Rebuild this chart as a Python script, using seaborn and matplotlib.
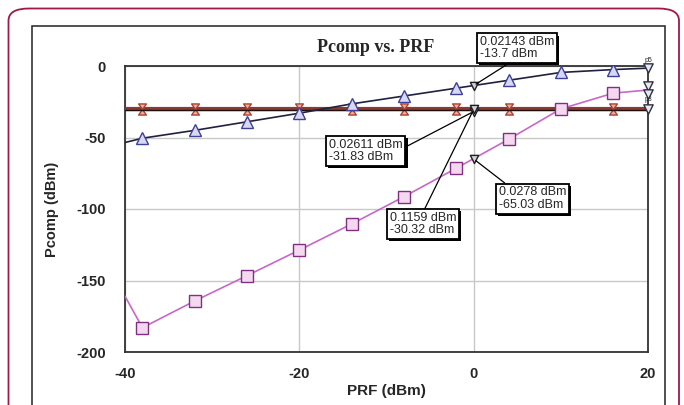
import numpy as np
import matplotlib
matplotlib.use("Agg")
import matplotlib.pyplot as plt
import matplotlib.patheffects as pe
import seaborn as sns
import pandas as pd
from matplotlib.patches import FancyBboxPatch, Rectangle
from matplotlib.path import Path

# ---------------- data ----------------
prf = [-40, -38, -32, -26, -20, -14, -8, -2, 4, 10, 16, 20]
pcomp_tri = [-53.5, -50.5, -45, -39, -33, -26.5, -21, -15.5, -10, -4.5, -2.5, -1.5]
pcomp_sq = [-161, -183, -164.3, -146.6, -128.7, -110.5, -91.4, -71.5, -51.3, -30, -19, -16.8]
pcomp_flat = [-30.3] * 12
pcomp_flat2 = [-31.0] * 12

marker_x = [0, 0, 0, 0]
marker_y = [-13.7, -31.83, -30.32, -65.03]
marker_txt = ["0.02143 dBm\n-13.7 dBm", "0.02611 dBm\n-31.83 dBm",
              "0.1159 dBm\n-30.32 dBm", "0.0278 dBm\n-65.03 dBm"]
end_labels = ["p5", "p8"]

xticks = [-40, -20, 0, 20]
yticks = [0, -50, -100, -150, -200]

# ---------------- style ----------------
sns.set_style("white")
plt.rcParams['font.family'] = ['Liberation Sans', 'DejaVu Sans']

fig = plt.figure(figsize=(6.84, 4.05), dpi=100)
ax = fig.add_axes([125/684, 1-352/405, (648-125)/684, (352-66)/405])

# decorations
fig.patches.append(FancyBboxPatch((8.5/684, -0.2), (679-8.5)/684, (1.2 - 8.5/405),
                                  boxstyle="round,pad=0,rounding_size=0.03",
                                  transform=fig.transFigure, fill=False,
                                  edgecolor="#a01848", lw=1.3, figure=fig))
fig.patches.append(Rectangle((32/684, -0.1), (665-32)/684, 1.1 - 26/405,
                             transform=fig.transFigure, fill=False,
                             edgecolor="#222222", lw=1.1, figure=fig))

df = pd.DataFrame({"PRF": prf, "tri": pcomp_tri, "sq": pcomp_sq,
                   "flat": pcomp_flat, "flat2": pcomp_flat2})

hourglass = Path([(-0.7, 1), (0.7, 1), (-0.7, -1), (0.7, -1), (-0.7, 1)],
                 [Path.MOVETO, Path.LINETO, Path.LINETO, Path.LINETO, Path.CLOSEPOLY])

mk = list(range(1, 11))
# flat brown line
sns.lineplot(data=df, x="PRF", y="flat", ax=ax, color="#8a3a30", lw=3.0,
             marker=hourglass, markevery=mk, markersize=8,
             markerfacecolor="#e8b0a0", markeredgecolor="#b04030", mew=1.0, zorder=3)
sns.lineplot(data=df, x="PRF", y="flat2", ax=ax, color="#201010", lw=1.0, zorder=3)
# magenta squares
sns.lineplot(data=df, x="PRF", y="sq", ax=ax, color="#c868c8", lw=1.2,
             marker="s", markevery=mk, markersize=8,
             markerfacecolor="#f4d8f0", markeredgecolor="#803080", mew=1.0, zorder=4)
# triangle series
sns.lineplot(data=df, x="PRF", y="tri", ax=ax, color="#202040", lw=1.2,
             marker="^", markevery=mk, markersize=8,
             markerfacecolor="#d8d8f4", markeredgecolor="#404098", mew=1.0, zorder=5)

# end markers at right edge
sns.scatterplot(x=[20, 20, 20, 20], y=[pcomp_tri[-1], pcomp_sq[-1] + 3, pcomp_sq[-1] - 3, pcomp_flat[-1]],
                ax=ax, marker="v", s=45, color="#e8e8f0", edgecolor="#303040",
                linewidth=1.0, zorder=6, clip_on=False)
ax.text(20, 1.5, end_labels[0], fontsize=5, ha="center", va="bottom")
ax.text(20, -26, end_labels[1], fontsize=5, ha="center", va="bottom")

# marker points at x=0
sns.scatterplot(x=marker_x, y=marker_y, ax=ax, marker="v", s=35,
                color="#d0d0d8", edgecolor="#202020", linewidth=1.0, zorder=7)

box = dict(boxstyle="square,pad=0.22", fc="white", ec="black", lw=1.3)
arrow = dict(arrowstyle="-", color="black", lw=0.9, shrinkA=0, shrinkB=2)
ann = [((0.7, 12.4), (0.45, 0.0), 0),
       ((-16.6, -59.4), (1.0, 0.6), 1),
       ((-9.6, -110.5), (0.5, 1.0), 2),
       ((2.9, -92.7), (0.15, 1.0), 3)]
for (xt, yt), rp, i in ann:
    a = dict(arrow)
    a["relpos"] = rp
    t = ax.annotate(marker_txt[i], xy=(marker_x[i], marker_y[i]), xytext=(xt, yt),
                    fontsize=9, va="center", ha="left", bbox=box, arrowprops=a,
                    annotation_clip=False, zorder=8, linespacing=1.05)
    t.get_bbox_patch().set_path_effects(
        [pe.SimplePatchShadow(offset=(1.6, -1.6), shadow_rgbFace="black", alpha=1.0),
         pe.Normal()])

ax.set_xlim(-40, 20)
ax.set_ylim(-200, 0)
ax.set_xticks(xticks)
ax.set_yticks(yticks)
ax.set_xticklabels([str(v) for v in xticks], fontsize=10.5, fontweight="bold")
ax.set_yticklabels([str(v) for v in yticks], fontsize=10.5, fontweight="bold")
ax.tick_params(axis="x", length=0, pad=11)
ax.tick_params(axis="y", length=0, pad=14)
ax.grid(True, color="#c8c8c8", lw=1.0)
for s in ax.spines.values():
    s.set_color("#333333")
    s.set_linewidth(1.3)

ax.set_xlabel("PRF (dBm)", fontsize=11, fontweight="bold", labelpad=2)
ax.set_ylabel("Pcomp (dBm)", fontsize=10.5, fontweight="bold", labelpad=12)
ax.text(0.48, 1.035, "Pcomp vs. PRF", transform=ax.transAxes, ha="center", va="bottom",
        fontsize=13, fontweight="bold", family=["Liberation Serif", "DejaVu Serif"])

fig.savefig("out.png", dpi=100)
